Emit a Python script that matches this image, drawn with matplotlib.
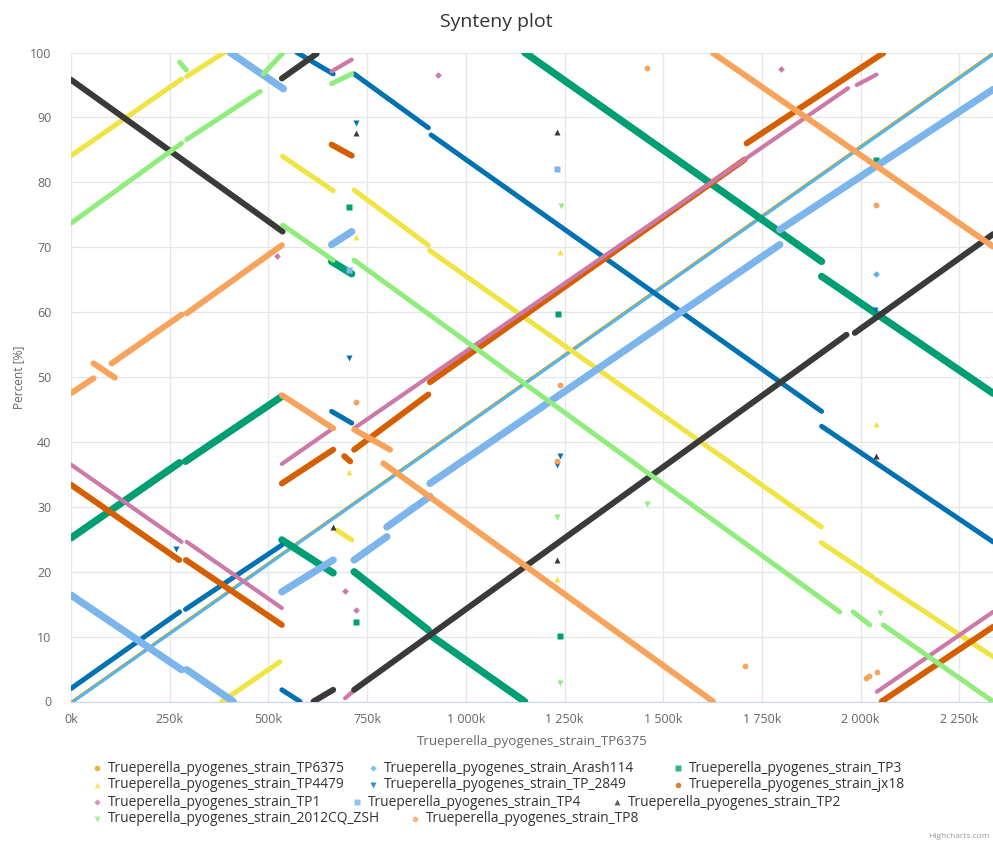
import matplotlib
matplotlib.use("Agg")
import matplotlib.pyplot as plt
from matplotlib.ticker import FuncFormatter, MultipleLocator

plt.rcParams['font.family'] = ['Open Sans', 'DejaVu Sans']

# =====================================================
# SERIES DATA  (x in kb of TP6375, y in percent)
# segments are (x0, y0, x1, y1), points are (x, y)
# =====================================================

names = [
    "Trueperella_pyogenes_strain_TP6375",
    "Trueperella_pyogenes_strain_Arash114",
    "Trueperella_pyogenes_strain_TP3",
    "Trueperella_pyogenes_strain_TP4479",
    "Trueperella_pyogenes_strain_TP_2849",
    "Trueperella_pyogenes_strain_jx18",
    "Trueperella_pyogenes_strain_TP1",
    "Trueperella_pyogenes_strain_TP4",
    "Trueperella_pyogenes_strain_TP2",
    "Trueperella_pyogenes_strain_2012CQ_ZSH",
    "Trueperella_pyogenes_strain_TP8",
]

tp6375_segs = [(0, 0, 2335, 100)]
tp6375_pts = []

arash114_segs = [(6, 0, 2335, 99.7)]
arash114_pts = [(2038, 65.9)]

tp3_segs = [(0, 25.2, 275, 36.8), (290, 37.0, 534, 47.0),
            (534, 24.9, 664, 19.8), (717, 20.0, 905, 11.0), (910, 10.2, 1149, 0),
            (660, 67.8, 711, 65.9),
            (1149, 100, 1901, 67.8), (1901, 65.5, 2335, 47.5)]
tp3_pts = [(705, 76.2), (721, 12.3), (1233, 59.7), (1238, 10.1), (2038, 83.5)]

tp4479_segs = [(0, 84.1, 280, 95.9), (293, 96.3, 388, 100),
               (382, 0, 529, 6.1),
               (536, 84.0, 664, 78.7), (717, 78.8, 905, 70.3), (908, 69.5, 1900, 26.9),
               (1900, 24.5, 2030, 19.2), (2038, 18.8, 2335, 6.9),
               (673, 26.4, 711, 24.9)]
tp4479_pts = [(721, 71.5), (705, 35.3), (1238, 69.3), (1232, 18.9), (2038, 42.7)]

tp2849_segs = [(0, 2.0, 275, 13.8), (290, 14.2, 534, 24.1),
               (534, 1.8, 580, 0),
               (660, 44.7, 711, 42.9),
               (572, 100, 664, 96.7), (717, 96.7, 905, 88.4),
               (912, 87.3, 1901, 44.7), (1901, 42.4, 2335, 24.6)]
tp2849_pts = [(721, 89.2), (705, 53.0), (265, 23.5), (1238, 37.9), (1232, 36.4), (2036, 60.3)]

jx18_segs = [(0, 33.4, 274, 21.8), (291, 21.8, 534, 11.8),
             (534, 33.6, 664, 38.8), (717, 38.8, 905, 47.3),
             (909, 49.2, 1706, 83.5), (1711, 86.0, 2057, 99.9),
             (660, 85.8, 711, 84.1),
             (2053, 0, 2335, 11.5),
             (692, 37.8, 707, 37.0)]
jx18_pts = []

tp1_segs = [(0, 36.5, 280, 24.6), (293, 24.6, 534, 14.4),
            (534, 36.6, 664, 42.1), (717, 42.1, 1968, 94.5), (1990, 95.0, 2040, 96.6),
            (660, 97.1, 711, 98.9),
            (2041, 1.5, 2335, 13.8),
            (694, 0.5, 719, 1.8)]
tp1_pts = [(930, 96.6), (521, 68.6), (694, 17.1), (721, 14.1), (1797, 97.4)]

tp4_segs = [(0, 16.4, 280, 4.9), (293, 4.9, 411, 0),
            (403, 100, 538, 94.4),
            (534, 16.9, 664, 21.8), (717, 21.8, 800, 25.4), (800, 26.9, 909, 31.6),
            (909, 33.6, 1795, 70.4), (1795, 72.7, 2335, 94.3),
            (660, 70.4, 711, 72.4)]
tp4_pts = [(705, 66.5), (1232, 82.0)]

tp2_segs = [(0, 95.8, 536, 72.4),
            (534, 96.0, 622, 99.8),
            (614, 0, 664, 1.8), (717, 1.8, 1964, 56.5), (1985, 56.8, 2335, 72.0)]
tp2_pts = [(721, 87.6), (664, 26.9), (1232, 87.7), (1232, 21.8), (2038, 37.9)]

cq_segs = [(0, 73.7, 280, 86.0), (293, 86.6, 479, 94.0),
           (487, 96.7, 538, 100),
           (275, 98.5, 292, 97.3),
           (660, 95.2, 711, 96.7),
           (536, 73.4, 664, 68.0), (717, 68.0, 1947, 13.8),
           (1981, 13.8, 2023, 11.8), (2057, 11.8, 2335, 0)]
cq_pts = [(1240, 76.3), (1232, 28.5), (1460, 30.5), (1238, 2.8), (2048, 13.7)]

tp8_segs = [(0, 47.5, 57, 49.8), (57, 52.1, 111, 49.9), (103, 52.1, 280, 59.6),
            (293, 59.8, 534, 70.3),
            (534, 47.2, 664, 42.1), (717, 41.9, 808, 38.8), (791, 36.7, 1626, 0),
            (1626, 99.9, 2335, 70.1)]
tp8_pts = [(721, 46.2), (1238, 48.7), (1232, 37.0), (1460, 97.6), (1706, 5.5),
           (2014, 3.6), (2022, 3.9), (2040, 4.6), (2038, 76.5)]

colors = ["#E69F00", "#56B4E9", "#009E73", "#F0E442", "#0072B2", "#D55E00",
          "#CC79A7", "#7CB5EC", "#3A3A3A", "#90ED7D", "#F7A35C"]
markers = ["o", "D", "s", "^", "v", "o", "D", "s", "^", "v", "o"]
widths = [1.1, 2.2, 5.2, 3.6, 3.6, 4.3, 3.0, 5.2, 4.3, 3.6, 4.3]

all_segs = [tp6375_segs, arash114_segs, tp3_segs, tp4479_segs, tp2849_segs, jx18_segs,
            tp1_segs, tp4_segs, tp2_segs, cq_segs, tp8_segs]
all_pts = [tp6375_pts, arash114_pts, tp3_pts, tp4479_pts, tp2849_pts, jx18_pts,
           tp1_pts, tp4_pts, tp2_pts, cq_pts, tp8_pts]

# =====================================================
# PLOT
# =====================================================

W, H = 993, 841
fig = plt.figure(figsize=(W / 100, H / 100), dpi=100)
ax = fig.add_axes([71 / W, 1 - 701.5 / H, (W - 71) / W, (701.5 - 52.5) / H])

for segs, pts, c, m, lw in zip(all_segs, all_pts, colors, markers, widths):
    for x0, y0, x1, y1 in segs:
        ax.plot([x0, x1], [y0, y1], color=c, lw=lw, solid_capstyle="round", zorder=3)
    if pts:
        ax.plot([p[0] for p in pts], [p[1] for p in pts], ls="none", marker=m,
                ms=4.2 if m != "D" else 3.4, color=c, mec="none", zorder=3)

ax.set_xlim(0, 2335)
ax.set_ylim(0, 100)
ax.xaxis.set_major_locator(MultipleLocator(250))
ax.yaxis.set_major_locator(MultipleLocator(10))
ax.xaxis.set_major_formatter(FuncFormatter(lambda v, p: f"{v:,.0f}".replace(",", " ") + "k"))
ax.grid(True, color="#e6e6e6", lw=0.9, zorder=0)
ax.set_axisbelow(True)
for side in ["top", "right", "left"]:
    ax.spines[side].set_visible(False)
ax.spines["bottom"].set_color("#ccd6eb")
ax.tick_params(axis="both", length=0, labelsize=9, labelcolor="#666666")
ax.tick_params(axis="x", pad=8)
ax.tick_params(axis="y", pad=14)

ax.set_xlabel(names[0], fontsize=9.6, color="#666666", labelpad=7)
ax.set_ylabel("Percent [%]", fontsize=8.6, color="#666666", labelpad=4)

fig.text(0.5, 1 - 22 / H, "Synteny plot", ha="center", va="center",
         fontsize=14, color="#333333")

# legend rows laid out like the highcharts legend
legend_pos = [(97, 768), (373, 768), (678, 768),
              (97, 785), (373, 785), (678, 785),
              (97, 802), (357, 802), (617, 802),
              (97, 819), (415, 819)]
for name, c, m, (lx, ly) in zip(names, colors, markers, legend_pos):
    fig.lines.append(plt.Line2D([lx / W], [1 - ly / H], transform=fig.transFigure,
                                ls="none", marker=m, ms=4 if m != "D" else 3.2,
                                color=c, mec="none", alpha=0.8))
    fig.text((lx + 11) / W, 1 - ly / H, name, ha="left", va="center",
             fontsize=9.9, color="#333333")

fig.text(990 / W, 1 - 836 / H, "Highcharts.com", ha="right", va="center",
         fontsize=6, color="#999999")

fig.savefig("out.png", dpi=100)
